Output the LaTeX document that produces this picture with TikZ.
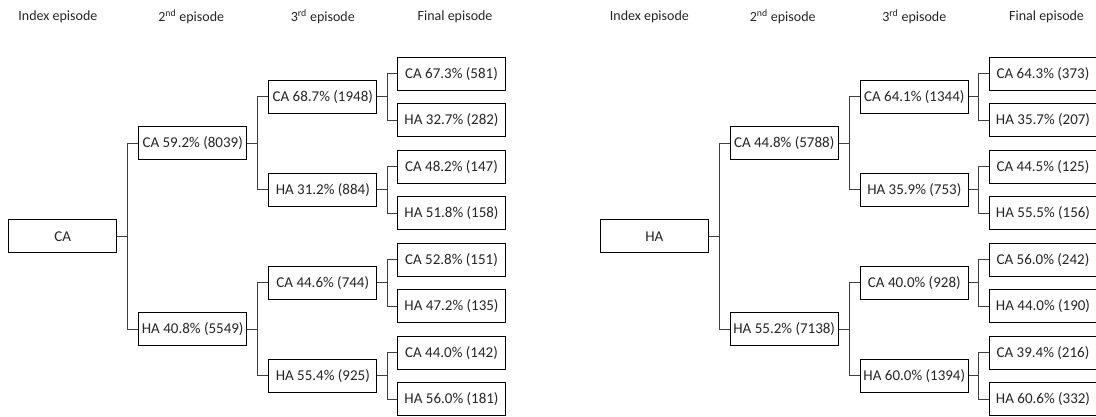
\documentclass[tikz,border=0pt]{standalone}
\usepackage{fontspec}
\setmainfont{Carlito}
\usetikzlibrary{calc}
\tikzset{
  box/.style={draw=black, line width=0.9pt, minimum width=108pt, minimum height=33pt,
    inner sep=0pt, font=\fontsize{15}{18}\selectfont, text=black!85},
  hdr/.style={font=\fontsize{14}{17}\selectfont, text=black!85, inner sep=0pt},
  conn/.style={draw=black!75, line width=0.9pt},
}
\newcommand{\branch}[3]{%
  \coordinate (#1-j) at ($(#1.east)!0.5!(#1.east -| #2.west)$);
  \draw[conn] (#1.east) -- (#1-j) |- (#2.west);
  \draw[conn] (#1-j) |- (#3.west);
}
\newcommand{\connecttree}[1]{%
  \branch{#1-i}{#1-a}{#1-b}
  \branch{#1-a}{#1-aa}{#1-ab}
  \branch{#1-b}{#1-ba}{#1-bb}
  \branch{#1-aa}{#1-aaa}{#1-aab}
  \branch{#1-ab}{#1-aba}{#1-abb}
  \branch{#1-ba}{#1-baa}{#1-bab}
  \branch{#1-bb}{#1-bba}{#1-bbb}
}
\newcommand{\headers}{%
  \node[hdr] at (57.9,16.7) {Index episode};
  \node[hdr] at (191.2,16.7) {2\textsuperscript{nd} episode};
  \node[hdr] at (322.8,16.7) {3\textsuperscript{rd} episode};
  \node[hdr] at (455.1,16.7) {Final episode};
}
\begin{document}
\begin{tikzpicture}[x=1pt,y=-1pt]
\clip (0,0) rectangle (1096,416);
\fill[white] (0,0) rectangle (1096,416);
% ---------- left tree ----------
\begin{scope}
\headers
\node[box] (L-i) at (62.8,236.35) {CA};
\node[box] (L-a) at (192.7,143.35) {CA 59.2\% (8039)};
\node[box] (L-b) at (192.7,329.35) {HA 40.8\% (5549)};
\node[box] (L-aa) at (322.8,96.85) {CA 68.7\% (1948)};
\node[box] (L-ab) at (322.8,189.85) {HA 31.2\% (884)};
\node[box] (L-ba) at (322.8,282.85) {CA 44.6\% (744)};
\node[box] (L-bb) at (322.8,375.85) {HA 55.4\% (925)};
\node[box] (L-aaa) at (451.5,73.6) {CA 67.3\% (581)};
\node[box] (L-aab) at (451.5,120.1) {HA 32.7\% (282)};
\node[box] (L-aba) at (451.5,166.6) {CA 48.2\% (147)};
\node[box] (L-abb) at (451.5,213.1) {HA 51.8\% (158)};
\node[box] (L-baa) at (451.5,259.6) {CA 52.8\% (151)};
\node[box] (L-bab) at (451.5,306.1) {HA 47.2\% (135)};
\node[box] (L-bba) at (451.5,352.6) {CA 44.0\% (142)};
\node[box] (L-bbb) at (451.5,399.1) {HA 56.0\% (181)};
\connecttree{L}
\end{scope}
% ---------- right tree ----------
\begin{scope}[xshift=591.5pt]
\headers
\node[box] (R-i) at (62.8,236.35) {HA};
\node[box] (R-a) at (192.7,143.35) {CA 44.8\% (5788)};
\node[box] (R-b) at (192.7,329.35) {HA 55.2\% (7138)};
\node[box] (R-aa) at (322.8,96.85) {CA 64.1\% (1344)};
\node[box] (R-ab) at (322.8,189.85) {HA 35.9\% (753)};
\node[box] (R-ba) at (322.8,282.85) {CA 40.0\% (928)};
\node[box] (R-bb) at (322.8,375.85) {HA 60.0\% (1394)};
\node[box] (R-aaa) at (451.5,73.6) {CA 64.3\% (373)};
\node[box] (R-aab) at (451.5,120.1) {HA 35.7\% (207)};
\node[box] (R-aba) at (451.5,166.6) {CA 44.5\% (125)};
\node[box] (R-abb) at (451.5,213.1) {HA 55.5\% (156)};
\node[box] (R-baa) at (451.5,259.6) {CA 56.0\% (242)};
\node[box] (R-bab) at (451.5,306.1) {HA 44.0\% (190)};
\node[box] (R-bba) at (451.5,352.6) {CA 39.4\% (216)};
\node[box] (R-bbb) at (451.5,399.1) {HA 60.6\% (332)};
\connecttree{R}
\end{scope}
\end{tikzpicture}
\end{document}
